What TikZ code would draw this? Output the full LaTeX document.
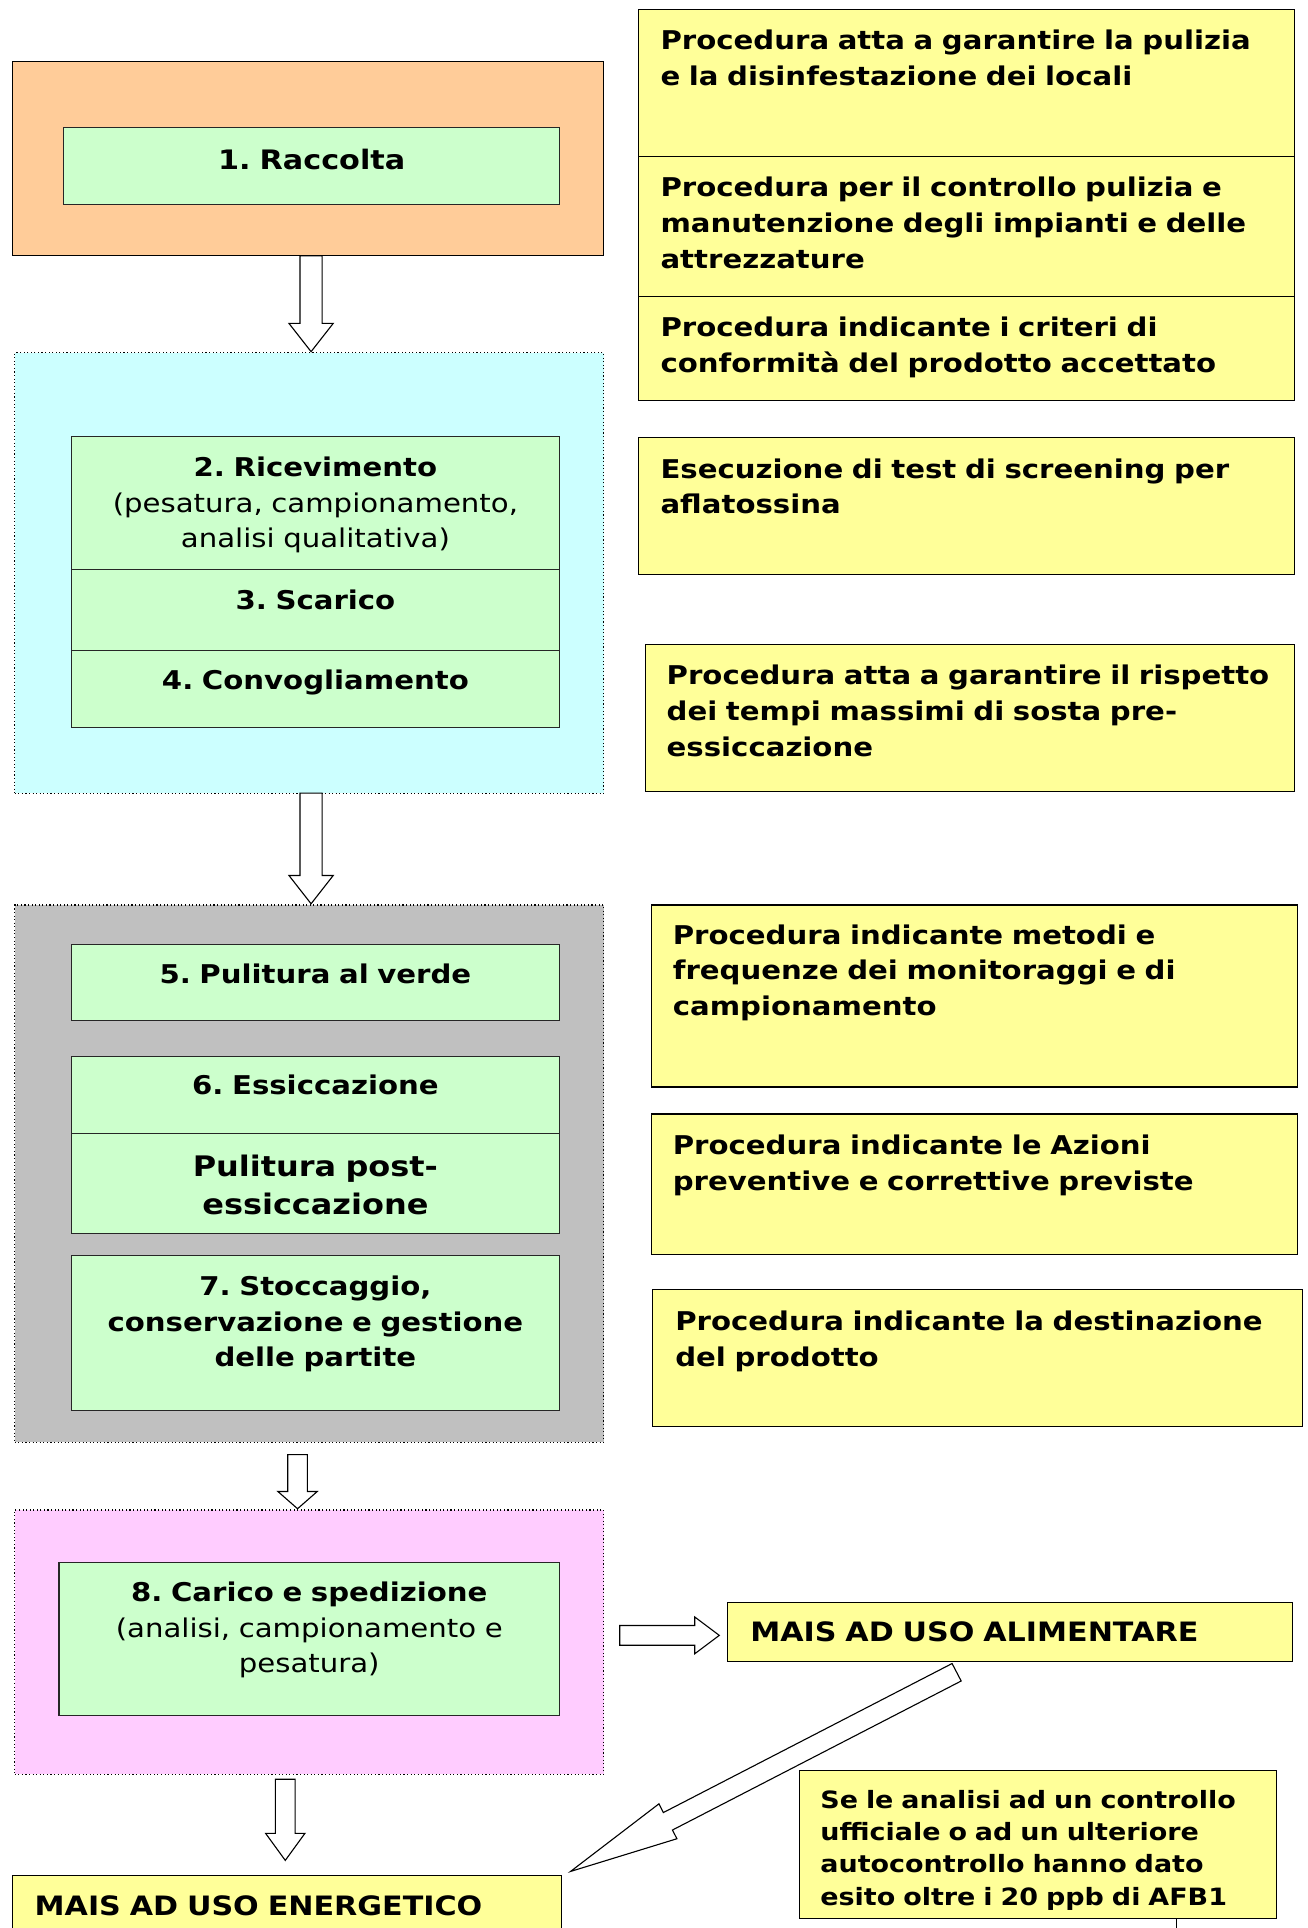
\documentclass[tikz,border=0pt]{standalone}
\usepackage{fontspec}
\setmainfont{DejaVu Sans}[FakeStretch=1.13]
\frenchspacing
\definecolor{cpeach}{HTML}{FFCC99}
\definecolor{ccyan}{HTML}{CCFFFF}
\definecolor{cgray}{HTML}{C0C0C0}
\definecolor{cpink}{HTML}{FFCCFF}
\definecolor{cgreen}{HTML}{CCFFCC}
\definecolor{cyellow}{HTML}{FFFF99}
\newcommand\blkdown[6]{%
  \draw[barrow] (#1-#4,#2) -- (#1-#4,#3-#6) -- (#1-#5,#3-#6) -- (#1,#3)
    -- (#1+#5,#3-#6) -- (#1+#4,#3-#6) -- (#1+#4,#2) -- cycle;}
\begin{document}
\begin{tikzpicture}[x=1pt,y=-1pt,
  box/.style={draw=black, line width=0.9pt, inner sep=0pt, outer sep=0pt, anchor=north west},
  grp/.style={box, dotted, line width=0.9pt},
  gbox/.style={box, fill=cgreen, draw=black!85},
  ybox/.style={box, fill=cyellow},
  ytxt/.style={anchor=base west, inner sep=0pt, text width=530pt, align=left,
    font=\fontsize{21}{29}\selectfont\bfseries},
  gtxt/.style={anchor=base, inner sep=0pt, text width=400pt, align=center,
    font=\fontsize{21}{29}\selectfont\bfseries},
  gtxtr/.style={anchor=base, inner sep=0pt, text width=400pt, align=center,
    font=\fontsize{21}{29}\selectfont},
  barrow/.style={draw=black, fill=white, line width=0.9pt, line join=miter}
]
\useasboundingbox (0,0) rectangle (1063,1568);
\fill[white] (0,0) rectangle (1063,1568);

% ---------- left column: group boxes ----------
\node[box, fill=cpeach, minimum width=481pt, minimum height=158pt] (g1) at (10,50) {};
\node[grp, fill=ccyan, minimum width=479pt, minimum height=358pt] (g2) at (12,287) {};
\node[grp, fill=cgray, minimum width=479pt, minimum height=437pt] (g3) at (12,736) {};
\node[grp, fill=cpink, minimum width=479pt, minimum height=215pt] (g4) at (12,1228) {};

% ---------- green step boxes ----------
\node[gbox, minimum width=403pt, minimum height=62pt] (s1) at (52,104) {};
\node[gtxt, font=\fontsize{21.8}{29}\selectfont\bfseries] (s1t) at (253.5,137.5) {1. Raccolta};

\node[gbox, minimum width=397pt, minimum height=108pt] (s2) at (58,355) {};
\node[gtxtr] (s2t) at (256.5,387.5) {\textbf{2. Ricevimento}\\(pesatura, campionamento,\\analisi qualitativa)};
\node[gbox, minimum width=397pt, minimum height=66pt] (s3) at (58,463) {};
\node[gtxt] (s3t) at (256.5,495.5) {3. Scarico};
\node[gbox, minimum width=397pt, minimum height=63pt] (s4) at (58,529) {};
\node[gtxt] (s4t) at (256.5,560.5) {4. Convogliamento};

\node[gbox, minimum width=397pt, minimum height=62pt] (s5) at (58,768) {};
\node[gtxt] (s5t) at (256.5,799.5) {5. Pulitura al verde};
\node[gbox, minimum width=397pt, minimum height=63pt] (s6) at (58,859) {};
\node[gtxt] (s6t) at (256.5,890.5) {6. Essiccazione};
\node[gbox, minimum width=397pt, minimum height=81pt] (s6b) at (58,922) {};
\node[gtxt, font=\fontsize{23}{31}\selectfont\bfseries] (s6bt) at (256.5,956.5) {Pulitura post-\\essiccazione};
\node[gbox, minimum width=397pt, minimum height=126pt] (s7) at (58,1021) {};
\node[gtxt] (s7t) at (256.5,1053.5) {7. Stoccaggio,\\conservazione e gestione\\delle partite};

\node[gbox, minimum width=407pt, minimum height=124pt] (s8) at (48,1271) {};
\node[gtxtr] (s8t) at (251.5,1302.5) {\textbf{8. Carico e spedizione}\\(analisi, campionamento e\\pesatura)};

% ---------- final yellow boxes ----------
\node[ybox, minimum width=447pt, minimum height=50pt] (en) at (10,1525) {};
\node[ytxt, font=\fontsize{21.7}{29}\selectfont\bfseries] (ent) at (28,1558) {MAIS AD USO ENERGETICO};
\node[ybox, minimum width=459pt, minimum height=48pt] (al) at (592,1303) {};
\node[ytxt, font=\fontsize{21.7}{29}\selectfont\bfseries] (alt) at (610,1335) {MAIS AD USO ALIMENTARE};

% ---------- right column: procedures ----------
\node[ybox, minimum width=534pt, minimum height=119pt] (p1) at (519,8) {};
\node[ytxt] (p1t) at (537,40.5) {Procedura atta a garantire la pulizia\\e la disinfestazione dei locali};
\node[ybox, minimum width=534pt, minimum height=114pt] (p2) at (519,127) {};
\node[ytxt] (p2t) at (537,160) {Procedura per il controllo pulizia e\\manutenzione degli impianti e delle\\attrezzature};
\node[ybox, minimum width=534pt, minimum height=85pt] (p3) at (519,241) {};
\node[ytxt] (p3t) at (537,274) {Procedura indicante i criteri di\\conformità del prodotto accettato};
\node[ybox, minimum width=534pt, minimum height=111pt] (p4) at (519,356) {};
\node[ytxt] (p4t) at (537,389) {Esecuzione di test di screening per\\aflatossina};
\node[ybox, minimum width=528pt, minimum height=120pt] (p5) at (525,524) {};
\node[ytxt] (p5t) at (542,557) {Procedura atta a garantire il rispetto\\dei tempi massimi di sosta pre-\\essiccazione};
\node[ybox, minimum width=525pt, minimum height=148pt] (p6) at (530,736) {};
\node[ytxt] (p6t) at (547,768) {Procedura indicante metodi e\\frequenze dei monitoraggi e di\\campionamento};
\node[ybox, minimum width=525pt, minimum height=114pt] (p7) at (530,906) {};
\node[ytxt] (p7t) at (547,939) {Procedura indicante le Azioni\\preventive e correttive previste};
\node[ybox, minimum width=528pt, minimum height=111pt] (p8) at (531,1049) {};
\node[ytxt] (p8t) at (549,1082) {Procedura indicante la destinazione\\del prodotto};
\node[ybox, minimum width=388pt, minimum height=120pt] (nt) at (650,1440) {};
\node[ytxt, font=\fontsize{19.4}{26.3}\selectfont\bfseries] (ntt) at (667,1470.5) {Se le analisi ad un controllo\\ufficiale o ad un ulteriore\\autocontrollo hanno dato\\esito oltre i 20 ppb di AFB1};
\draw[line width=1pt] (957,1560) -- (957,1568);

% ---------- block arrows ----------
\blkdown{253}{208}{286}{9}{18}{23}
\blkdown{253}{645}{735}{9}{18}{23}
\blkdown{242}{1183}{1227}{8}{16}{14}
\blkdown{232}{1447}{1513}{8}{16}{22}
\draw[barrow] (504,1322) -- (565,1322) -- (565,1315) -- (585,1330) -- (565,1345)
  -- (565,1338) -- (504,1338) -- cycle;
\coordinate (dA) at (781.7,1367.1);
\coordinate (dB) at (774.3,1352.9);
\coordinate (dC) at (539.5,1474.1);
\coordinate (dD) at (535.9,1467.0);
\coordinate (dT) at (464,1522);
\coordinate (dE) at (550.5,1495.4);
\coordinate (dF) at (546.9,1488.3);
\draw[barrow] (dB) -- (dC) -- (dD) -- (dT) -- (dE) -- (dF) -- (dA) -- cycle;
\end{tikzpicture}
\end{document}
